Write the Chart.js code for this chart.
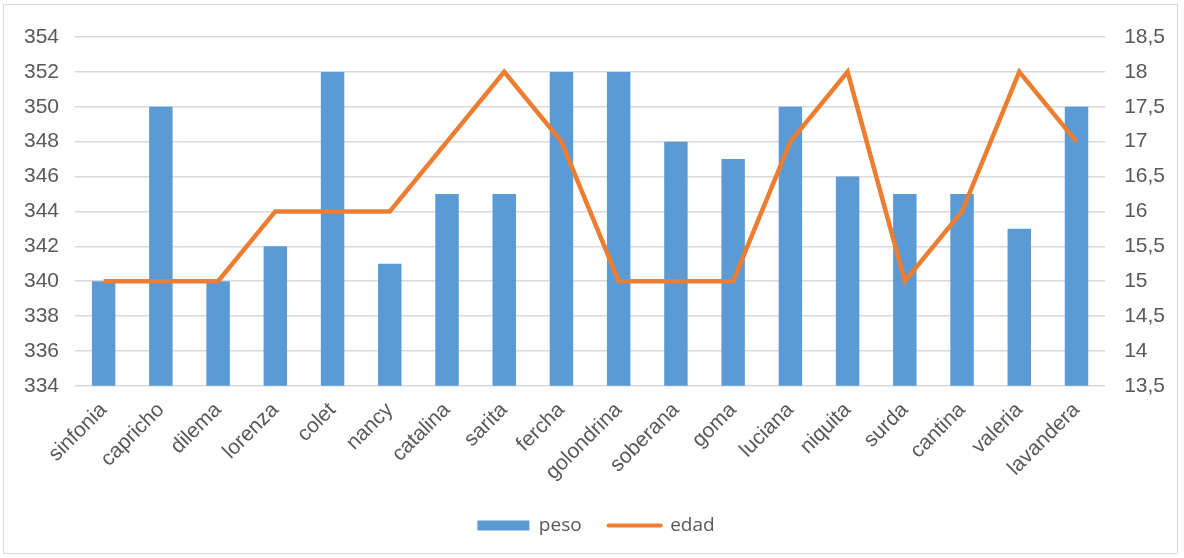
<!DOCTYPE html>
<html>
<head>
<meta charset="utf-8">
<script src="https://cdn.jsdelivr.net/npm/chart.js@4.4.0/dist/chart.umd.min.js"></script>
<style>
  body { margin: 0; background: #fff; }
  #wrap { position: relative; width: 1184px; height: 558px; }
  #frame { position: absolute; left: 3px; top: 4px; width: 1175px; height: 550px; border: 1px solid #D9D9D9; box-sizing: border-box; }
</style>
</head>
<body>
<div id="wrap">
  <div id="frame"></div>
  <canvas id="chart" width="1184" height="558"></canvas>
</div>
<script>
// names along the bottom
const names = ['sinfonia', 'capricho', 'dilema', 'lorenza', 'colet', 'nancy', 'catalina', 'sarita', 'fercha',
  'golondrina', 'soberana', 'goma', 'luciana', 'niquita', 'surda', 'cantina', 'valeria', 'lavandera'];

// peso (left axis)
const peso = [340, 350, 340, 342, 352, 341, 345, 345, 352, 352, 348, 347, 350, 346, 345, 345, 343, 350];

// edad (right axis)
const edad = [15, 15, 15, 16, 16, 16, 17, 18, 17, 15, 15, 15, 17, 18, 15, 16, 18, 17];

const tickFont = { family: 'Liberation Sans', size: 21 };
const grey = '#595959';

const ctx = document.getElementById('chart').getContext('2d');
new Chart(ctx, {
  type: 'bar',
  data: {
    labels: names,
    datasets: [
      { label: 'peso', data: peso, backgroundColor: '#5B9BD5', yAxisID: 'y',
        barPercentage: 0.41, categoryPercentage: 1, order: 1 },
      { type: 'line', label: 'edad', data: edad, borderColor: '#ED7D31', backgroundColor: '#ED7D31',
        borderWidth: 4.5, pointRadius: 0, tension: 0, yAxisID: 'y1', order: 0 }
    ]
  },
  options: {
    responsive: false,
    animation: false,
    layout: { padding: { left: 8, right: 0, top: 37, bottom: 13 } },
    plugins: {
      tooltip: { enabled: false },
      legend: {
        position: 'bottom',
        labels: {
          usePointStyle: true, pointStyleWidth: 52, boxHeight: 10, padding: 27,
          color: grey, font: { family: 'Open Sans', size: 19 },
          sort: (a, b) => a.datasetIndex - b.datasetIndex,
          generateLabels: chart => chart.data.datasets.map((ds, i) => ({
            text: ds.label, datasetIndex: i, fillStyle: ds.backgroundColor, strokeStyle: ds.borderColor || ds.backgroundColor,
            lineWidth: i === 1 ? 4 : 0, lineCap: 'round', pointStyle: i === 1 ? 'line' : 'rect', fontColor: grey
          }))
        }
      }
    },
    scales: {
      x: {
        grid: { display: false }, border: { display: false },
        ticks: { color: grey, font: tickFont, maxRotation: 45, minRotation: 45, padding: 4 }
      },
      y: {
        position: 'left', min: 334, max: 354,
        grid: { color: '#D9D9D9', lineWidth: 1.5, drawTicks: false }, border: { display: false },
        ticks: { stepSize: 2, color: grey, font: tickFont, padding: 16 }
      },
      y1: {
        position: 'right', min: 13.5, max: 18.5,
        grid: { display: false, drawTicks: false }, border: { display: false },
        ticks: { stepSize: 0.5, color: grey, font: tickFont, padding: 19,
          callback: v => String(v).replace('.', ',') }
      }
    }
  }
});
</script>
</body>
</html>
